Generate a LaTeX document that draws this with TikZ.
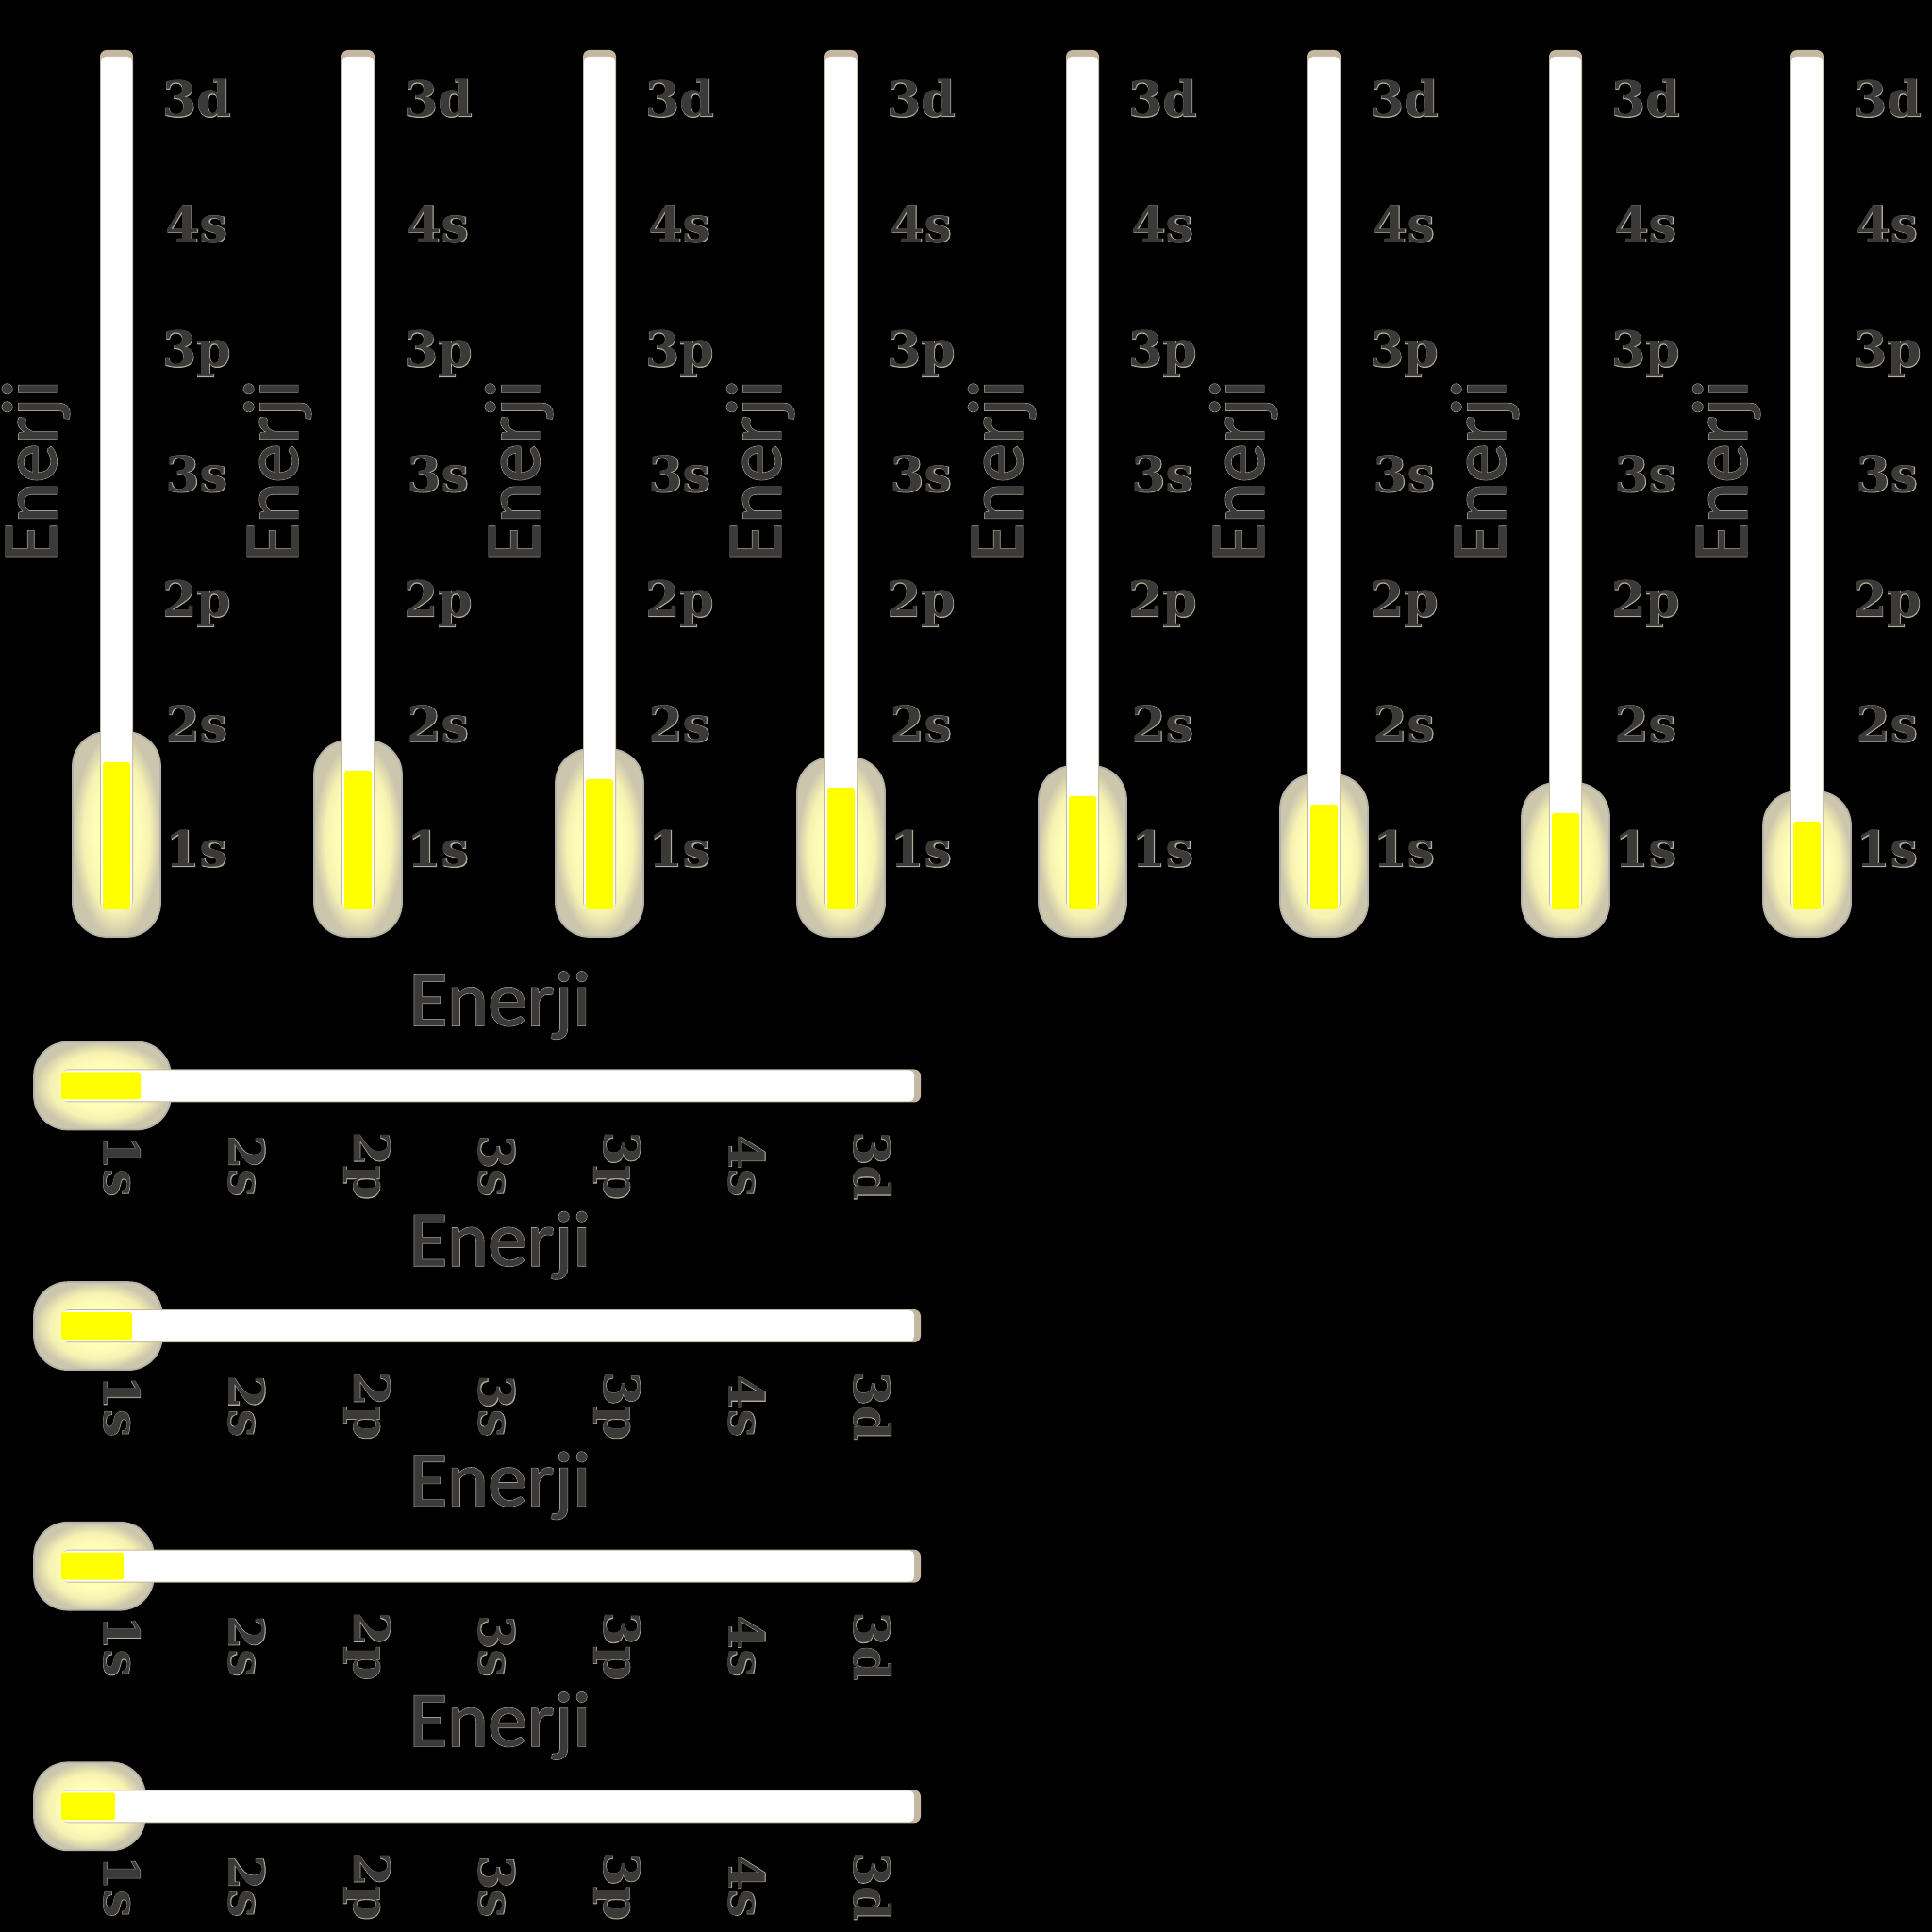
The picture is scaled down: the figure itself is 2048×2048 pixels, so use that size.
\documentclass[tikz,border=0pt]{standalone}
\usepackage{fontspec}
\setmainfont{DejaVu Serif}
\newfontfamily\labfont{DejaVu Serif}
\newfontfamily\labfontO{DejaVu Serif}[FakeBold=1.6]
\newfontfamily\enfont{Carlito}[FakeBold=0.8]
\newfontfamily\enfontO{Carlito}[FakeBold=2.2]
\definecolor{textgray}{HTML}{3B3A38}
\definecolor{outl}{HTML}{B2AA9A}
\definecolor{tubecap}{HTML}{C4B6A0}
\definecolor{bulbedge}{HTML}{B4B2AA}
\definecolor{glowin}{HTML}{FFFFB8}
\definecolor{glowmid}{HTML}{F6F2B2}
\definecolor{glowout}{HTML}{CBC6AC}
\definecolor{fillbar}{HTML}{FFFF00}
\pgfdeclareradialshading{bulbglow}{\pgfpoint{0bp}{0bp}}{color(0bp)=(glowin); color(12bp)=(glowin); color(19bp)=(glowmid); color(25bp)=(glowout); color(50bp)=(glowout)}
\newcommand{\labtext}[1]{\rlap{\color{outl}\labfontO\bfseries #1}{\labfont\bfseries #1}}
\newcommand{\entext}[1]{\rlap{\color{outl}\enfontO #1}{\enfont #1}}
\tikzset{
  bulb/.style={shading=bulbglow, draw=bulbedge, line width=0.5pt, rounded corners=3.6mm},
  orb/.style={font=\fontsize{14.8}{14.8}\selectfont, text=textgray, inner sep=0pt, text height=0.73em, text depth=0pt, anchor=center},
  enj/.style={font=\fontsize{23.5}{23.5}\selectfont, text=textgray, inner sep=0pt, anchor=base}
}
\newcommand{\thermo}[5]{%
  \begin{scope}[shift={(#2,#3)}, rotate=#4, transform shape]
    \shade[bulb] (-46.5,0) rectangle (46.5,{#5+61});
    \fill[tubecap, rounded corners=0.7mm] (-17.5,30) rectangle (17.5,940);
    \fill[white, rounded corners=0.5mm] (-16.5,30) rectangle (16.5,933);
    \fill[fillbar, rounded corners=0.25mm] (-14.5,29) rectangle (14.5,{29+#5});
    \foreach \orb [count=\i from 0] in {1s,2s,2p,3s,3p,4s,3d} {
      \node[orb] (#1-\orb) at (85,{87+132.5*\i}) {\labtext{\orb}};
    }
    \node[enj, rotate=90] (#1-enerji) at (-64,494) {\entext{Enerji}};
  \end{scope}}
\begin{document}
\begin{tikzpicture}[x=0.01cm, y=0.01cm]
  \fill[black] (0,0) rectangle (2048,2048);
  \useasboundingbox (0,0) rectangle (2048,2048);
  \foreach \j in {0,...,7} {
    \thermo{v\j}{123.5+256*\j}{1055}{0}{156-9*\j}
  }
  \foreach \m in {0,...,3} {
    \thermo{h\m}{36}{897-254.6*\m}{-90}{84-9*\m}
  }
\end{tikzpicture}
\end{document}
